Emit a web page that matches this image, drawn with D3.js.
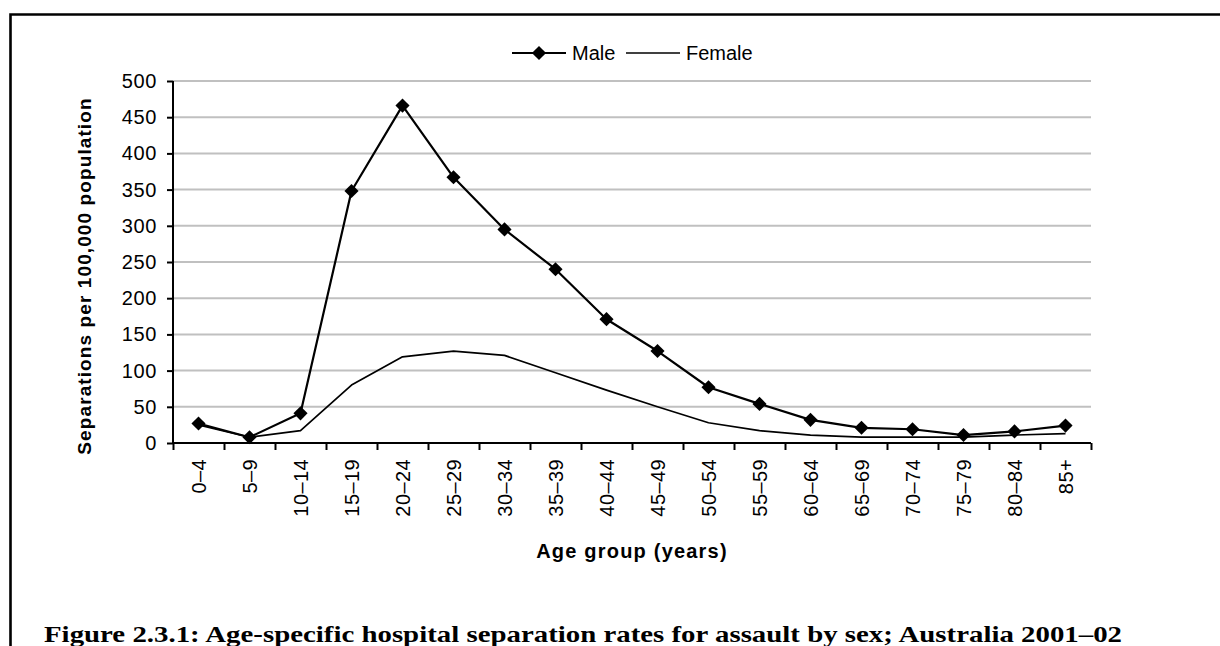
<!DOCTYPE html>
<html>
<head>
<meta charset="utf-8">
<script src="https://cdn.jsdelivr.net/npm/d3@7"></script>
<style>
  html, body { margin: 0; padding: 0; background: #fff; }
  svg { display: block; }
</style>
</head>
<body>
<svg id="chart" width="1220" height="646"></svg>
<script>
const ageGroups = ["0–4","5–9","10–14","15–19","20–24","25–29","30–34","35–39","40–44","45–49","50–54","55–59","60–64","65–69","70–74","75–79","80–84","85+"];
const maleRates = [27, 8, 41, 348, 466, 367, 295, 240, 171, 127, 77, 54, 32, 21, 19, 11, 16, 24];
const femaleRates = [25, 8, 17, 80, 119, 127, 121, 97, 73, 50, 28, 17, 11, 8, 8, 8, 11, 13];
const yTickValues = [0, 50, 100, 150, 200, 250, 300, 350, 400, 450, 500];
const seriesNames = ["Male", "Female"];
const yTitle = "Separations per 100,000 population";
const xTitle = "Age group (years)";
const caption = "Figure 2.3.1: Age-specific hospital separation rates for assault by sex; Australia 2001–02";

(function () {
const svg = d3.select("#chart");
const sans = "'Liberation Sans', Arial, sans-serif";
const serif = "'Liberation Serif', 'Times New Roman', serif";

const pL = 173, pR = 1091, pT = 81, pB = 443;

const x = d3.scaleBand().domain(ageGroups).range([pL, pR]).paddingInner(0).paddingOuter(0);
const xEdge = d3.scaleLinear().domain([0, ageGroups.length]).range([pL, pR]);
const y = d3.scaleLinear().domain([0, 500]).range([pB, pT]);

// frame (top and left only)
svg.append("path")
  .attr("d", d3.line()([[10.5, 646], [10.5, 14.5], [1220, 14.5]]))
  .attr("fill", "none").attr("stroke", "#000").attr("stroke-width", 2.6);

// gridlines
svg.append("g").selectAll("line")
  .data(yTickValues.filter(v => v > 0))
  .join("line")
  .attr("x1", pL).attr("x2", pR)
  .attr("y1", d => y(d)).attr("y2", d => y(d))
  .attr("stroke", "#c0c0c0").attr("stroke-width", 2);

// y axis
const yAxis = svg.append("g")
  .attr("transform", `translate(${pL},0)`)
  .call(d3.axisLeft(y).tickValues(yTickValues).tickSize(6).tickPadding(10).tickFormat(d3.format("d")));
yAxis.select(".domain").attr("stroke", "#000").attr("stroke-width", 2).attr("d", `M0,${pT}V${pB}`);
yAxis.selectAll(".tick line").attr("stroke", "#000").attr("stroke-width", 2);
yAxis.selectAll(".tick text").attr("font-family", sans).attr("font-size", 20).attr("fill", "#000")
  .attr("letter-spacing", 0.6);

// x axis: boundary ticks
const xTicks = svg.append("g")
  .attr("transform", `translate(0,${pB})`)
  .call(d3.axisBottom(xEdge).tickValues(d3.range(ageGroups.length + 1)).tickSize(7).tickFormat(""));
xTicks.select(".domain").attr("stroke", "#000").attr("stroke-width", 2).attr("d", `M${pL},0H${pR}`);
xTicks.selectAll(".tick line").attr("stroke", "#000").attr("stroke-width", 2);

// x labels
const xLab = svg.append("g")
  .attr("transform", `translate(0,${pB})`)
  .call(d3.axisBottom(x).tickSize(0).tickPadding(0));
xLab.select(".domain").remove();
xLab.selectAll(".tick text")
  .attr("font-family", sans).attr("font-size", 20).attr("fill", "#000")
  .attr("letter-spacing", 0.4)
  .attr("transform", "rotate(-90)")
  .attr("text-anchor", "end")
  .attr("x", -16).attr("y", 0).attr("dy", "0.35em");

// female line
const line = d3.line().x((d, i) => x(ageGroups[i]) + x.bandwidth() / 2).y(d => y(d));
svg.append("path").datum(femaleRates)
  .attr("d", line).attr("fill", "none").attr("stroke", "#000").attr("stroke-width", 1.7)
  .attr("stroke-linejoin", "round");

// male line
svg.append("path").datum(maleRates)
  .attr("d", line).attr("fill", "none").attr("stroke", "#000").attr("stroke-width", 2.2)
  .attr("stroke-linejoin", "round");

const diamond = d3.symbol(d3.symbolSquare, 100);
svg.append("g").selectAll("path")
  .data(maleRates)
  .join("path")
  .attr("d", diamond)
  .attr("transform", (d, i) => `translate(${x(ageGroups[i]) + x.bandwidth() / 2},${y(d)}) rotate(45)`)
  .attr("fill", "#000");

// legend
const lg = svg.append("g");
const ly = 53;
lg.append("line").attr("x1", 512).attr("x2", 566).attr("y1", ly).attr("y2", ly).attr("stroke", "#000").attr("stroke-width", 2.2);
lg.append("path").attr("d", diamond).attr("transform", `translate(539,${ly}) rotate(45)`).attr("fill", "#000");
lg.append("text").attr("x", 572).attr("y", ly).attr("dy", "0.35em").attr("font-family", sans).attr("font-size", 20).text(seriesNames[0]);
lg.append("line").attr("x1", 626).attr("x2", 680).attr("y1", ly).attr("y2", ly).attr("stroke", "#000").attr("stroke-width", 1.7);
lg.append("text").attr("x", 686).attr("y", ly).attr("dy", "0.35em").attr("font-family", sans).attr("font-size", 20).text(seriesNames[1]);

// y title
svg.append("text")
  .attr("transform", `translate(91,276) rotate(-90)`)
  .attr("text-anchor", "middle")
  .attr("font-family", sans).attr("font-weight", "bold").attr("font-size", 19)
  .attr("letter-spacing", 1.1)
  .text(yTitle);

// x title
svg.append("text")
  .attr("x", (pL + pR) / 2).attr("y", 558)
  .attr("text-anchor", "middle")
  .attr("font-family", sans).attr("font-weight", "bold").attr("font-size", 20)
  .attr("letter-spacing", 1.2)
  .text(xTitle);

// caption
svg.append("text")
  .attr("x", 44).attr("y", 642)
  .attr("font-family", serif).attr("font-weight", "bold").attr("font-size", 23)
  .attr("textLength", 1078).attr("lengthAdjust", "spacingAndGlyphs")
  .text(caption);
})();
</script>
</body>
</html>
